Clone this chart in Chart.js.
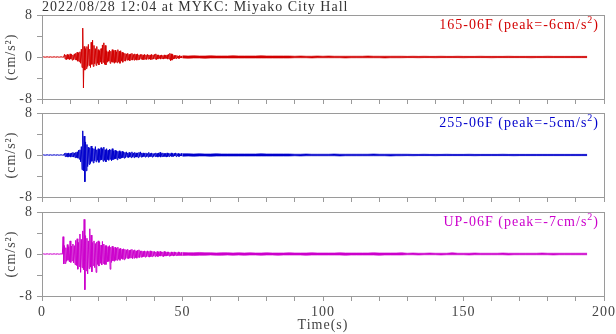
<!DOCTYPE html>
<html>
<head>
<meta charset="utf-8">
<title>MYKC acceleration</title>
<script src="https://cdn.jsdelivr.net/npm/chart.js@4/dist/chart.umd.min.js"></script>
<style>
  body { margin: 0; background: #fff; }
  #wrap { position: relative; width: 616px; height: 334px; overflow: hidden; }
  #wrap canvas { position: absolute; left: 0; }
</style>
</head>
<body>
<div id="wrap">
  <canvas id="p165" width="616" height="104" style="top:0px"></canvas>
  <canvas id="p255" width="616" height="104" style="top:98px"></canvas>
  <canvas id="pUP" width="616" height="137" style="top:197px"></canvas>
</div>
<script>
// Record header and tick labels
const recordTitle = '2022/08/28 12:04 at MYKC: Miyako City Hall';
const xTickLabels = [0, 50, 100, 150, 200];
const yTickLabels = [8, 0, -8];

// Strong-motion part: max / min of each 0.5 s window, starting at t = 0 s
const strongStart = 0;
const strongStep = 0.5;
// Coda: max / min envelope every 2 s, starting at t = 50 s
const tailStart = 50;
const tailStep = 2;

// 165-06F component (cm/s^2)
const ch165Hi = [0.03,0.03,0.03,0.03,0.03,0.03,0.03,0.03,0.03,0.03,0.03,0.03,0.03,0.03,0.03,0.03,
  0.5,0.4,0.5,0.4,0.6,0.5,0.4,0.6,0.7,0.9,0.8,1.0,1.5,5.5,2.0,1.6,2.0,2.4,1.5,2.8,
  3.2,2.2,1.6,2.0,1.4,1.2,1.6,2.3,2.7,2.2,1.2,1.0,1.3,1.1,1.4,1.2,1.3,1.0,1.4,1.1,
  1.2,0.9,0.8,0.7,0.6,0.7,0.5,0.6,0.7,0.5,0.6,0.5,0.6,0.4,0.5,0.5,0.4,0.5,0.4,0.5,
  0.4,0.4,0.5,0.4,0.5,0.6,0.4,0.4,0.3,0.4,0.3,0.4,0.3,0.4,0.5,0.7,0.6,0.5,0.3,0.3,
  0.3,0.2,0.3,0.2];
const ch165Lo = [-0.03,-0.03,-0.03,-0.03,-0.03,-0.03,-0.03,-0.03,-0.03,-0.03,-0.03,-0.03,-0.03,-0.03,-0.03,-0.03,
  -0.4,-0.5,-0.4,-0.5,-0.4,-0.6,-0.5,-0.5,-0.6,-0.8,-0.9,-1.2,-2.0,-5.9,-2.5,-2.2,-1.8,-1.6,-2.0,-1.4,
  -1.8,-1.3,-1.6,-1.2,-1.5,-1.0,-1.3,-1.0,-1.4,-1.5,-1.0,-0.8,-1.2,-0.9,-1.0,-1.2,-1.0,-1.1,-0.9,-1.2,
  -0.8,-1.0,-0.7,-0.8,-0.6,-0.6,-0.7,-0.5,-0.6,-0.6,-0.5,-0.6,-0.5,-0.5,-0.4,-0.5,-0.5,-0.4,-0.5,-0.4,
  -0.4,-0.5,-0.4,-0.4,-0.4,-0.5,-0.4,-0.3,-0.4,-0.3,-0.4,-0.3,-0.3,-0.4,-0.4,-0.7,-0.6,-0.4,-0.3,-0.3,
  -0.2,-0.3,-0.2,-0.2];
const ch165TailHi = [0.25,0.2,0.25,0.2,0.2,0.25,0.2,0.2,0.2,0.25,
  0.2,0.2,0.2,0.2,0.25,0.2,0.2,0.2,0.2,0.2,
  0.15,0.2,0.15,0.15,0.2,0.15,0.2,0.15,0.15,0.15,
  0.15,0.15,0.15,0.2,0.15,0.15,0.15,0.15,0.15,0.15,
  0.12,0.15,0.12,0.15,0.12,0.12,0.15,0.12,0.12,0.15,
  0.12,0.12,0.12,0.15,0.12,0.12,0.12,0.12,0.15,0.12,
  0.12,0.12,0.12,0.12,0.12,0.15,0.12,0.12,0.12,0.12,0.12,0.12,0.12];
const ch165TailLo = [-0.2,-0.25,-0.2,-0.2,-0.25,-0.2,-0.2,-0.2,-0.2,-0.2,
  -0.2,-0.2,-0.2,-0.2,-0.2,-0.2,-0.2,-0.2,-0.2,-0.2,
  -0.15,-0.15,-0.15,-0.2,-0.15,-0.15,-0.15,-0.15,-0.15,-0.2,
  -0.15,-0.15,-0.15,-0.15,-0.15,-0.15,-0.2,-0.15,-0.15,-0.15,
  -0.12,-0.12,-0.15,-0.12,-0.12,-0.15,-0.12,-0.12,-0.12,-0.12,
  -0.15,-0.12,-0.12,-0.12,-0.12,-0.15,-0.12,-0.12,-0.12,-0.12,
  -0.12,-0.12,-0.15,-0.12,-0.12,-0.12,-0.12,-0.12,-0.12,-0.12,-0.12,-0.12,-0.12];

// 255-06F component (cm/s^2)
const ch255Hi = [0.03,0.03,0.03,0.03,0.03,0.03,0.03,0.03,0.03,0.03,0.03,0.03,0.03,0.03,0.03,0.03,
  0.3,0.4,0.3,0.4,0.3,0.4,0.5,0.4,0.5,0.6,0.9,1.0,1.6,4.6,3.6,2.5,2.0,1.5,1.4,1.7,
  1.3,1.2,1.6,1.0,1.2,1.1,1.4,1.2,1.5,1.0,1.2,0.9,1.1,1.0,1.2,0.8,0.9,0.8,0.7,0.8,
  0.6,0.7,0.6,0.5,0.6,0.4,0.5,0.4,0.6,0.4,0.5,0.4,0.4,0.5,0.6,0.4,0.4,0.3,0.4,0.3,
  0.5,0.3,0.4,0.3,0.3,0.4,0.3,0.4,0.5,0.3,0.4,0.3,0.3,0.4,0.3,0.3,0.4,0.3,0.3,0.4,
  0.3,0.3,0.2,0.3];
const ch255Lo = [-0.03,-0.03,-0.03,-0.03,-0.03,-0.03,-0.03,-0.03,-0.03,-0.03,-0.03,-0.03,-0.03,-0.03,-0.03,-0.03,
  -0.3,-0.3,-0.4,-0.3,-0.4,-0.3,-0.4,-0.5,-0.5,-0.6,-0.8,-1.3,-2.8,-3.0,-5.1,-3.0,-2.2,-1.8,-1.6,-1.2,
  -1.5,-1.1,-1.3,-1.0,-1.4,-1.0,-0.9,-1.2,-1.0,-1.3,-0.9,-1.0,-0.8,-1.1,-0.9,-0.8,-0.7,-0.9,-0.6,-0.7,
  -0.6,-0.5,-0.6,-0.5,-0.4,-0.5,-0.4,-0.5,-0.4,-0.5,-0.4,-0.4,-0.5,-0.3,-0.4,-0.4,-0.3,-0.4,-0.3,-0.4,
  -0.3,-0.3,-0.4,-0.3,-0.3,-0.3,-0.4,-0.3,-0.4,-0.3,-0.3,-0.3,-0.4,-0.3,-0.3,-0.2,-0.3,-0.3,-0.2,-0.3,
  -0.2,-0.3,-0.2,-0.2];
const ch255TailHi = [0.25,0.25,0.2,0.25,0.2,0.2,0.25,0.2,0.2,0.2,
  0.2,0.2,0.2,0.2,0.25,0.2,0.2,0.2,0.2,0.2,
  0.15,0.15,0.2,0.15,0.15,0.15,0.15,0.2,0.15,0.15,
  0.15,0.15,0.15,0.15,0.2,0.15,0.15,0.15,0.15,0.15,
  0.15,0.12,0.12,0.15,0.12,0.12,0.12,0.15,0.12,0.12,
  0.12,0.15,0.12,0.12,0.12,0.12,0.12,0.15,0.12,0.12,
  0.12,0.12,0.12,0.12,0.12,0.12,0.12,0.12,0.12,0.12,0.12,0.12,0.12];
const ch255TailLo = [-0.25,-0.2,-0.25,-0.2,-0.2,-0.25,-0.2,-0.2,-0.2,-0.2,
  -0.2,-0.2,-0.2,-0.2,-0.2,-0.2,-0.2,-0.2,-0.2,-0.2,
  -0.15,-0.2,-0.15,-0.15,-0.15,-0.15,-0.15,-0.15,-0.2,-0.15,
  -0.15,-0.15,-0.15,-0.15,-0.15,-0.15,-0.15,-0.2,-0.15,-0.15,
  -0.12,-0.15,-0.12,-0.12,-0.12,-0.15,-0.12,-0.12,-0.12,-0.12,
  -0.12,-0.12,-0.15,-0.12,-0.12,-0.12,-0.12,-0.12,-0.12,-0.15,
  -0.12,-0.12,-0.12,-0.12,-0.12,-0.12,-0.12,-0.12,-0.12,-0.12,-0.12,-0.12,-0.12];

// UP-06F component (cm/s^2)
const chUpHi = [0.03,0.03,0.03,0.03,0.03,0.03,0.03,0.03,0.03,0.03,0.03,0.03,0.03,0.03,0.03,
  3.3,1.6,1.2,1.8,1.4,2.5,1.5,1.9,1.6,2.6,2.9,2.2,3.8,2.8,4.4,6.6,3.5,3.0,2.5,4.8,
  3.6,2.2,2.5,2.0,2.3,2.5,2.3,1.7,2.4,1.9,1.6,1.6,1.4,1.6,1.3,1.5,1.2,1.3,1.1,1.3,
  1.0,1.1,0.9,1.0,0.9,0.8,0.9,0.7,0.8,0.9,0.7,0.8,0.6,0.7,0.8,0.6,0.6,0.5,0.6,0.5,
  0.6,0.5,0.6,0.5,0.5,0.5,0.4,0.5,0.4,0.5,0.4,0.4,0.5,0.4,0.4,0.4,0.3,0.4,0.3,0.4,
  0.3,0.3,0.4,0.3,0.3];
const chUpLo = [-0.03,-0.03,-0.03,-0.03,-0.03,-0.03,-0.03,-0.03,-0.03,-0.03,-0.03,-0.03,-0.03,-0.03,-0.03,
  -1.9,-1.8,-1.4,-1.2,-1.5,-1.6,-1.3,-1.7,-2.0,-2.2,-2.9,-2.4,-3.5,-2.6,-3.0,-6.8,-3.2,-3.8,-2.8,-2.5,
  -3.4,-2.2,-2.6,-3.5,-2.0,-2.3,-1.8,-2.1,-1.8,-2.0,-2.0,-1.5,-1.4,-2.9,-1.6,-1.3,-1.4,-1.2,-1.2,-1.0,
  -1.2,-0.9,-1.0,-1.1,-0.9,-0.8,-0.9,-0.8,-0.7,-0.9,-0.8,-0.7,-0.8,-0.6,-0.7,-0.6,-0.6,-0.5,-0.6,-0.5,
  -0.5,-0.6,-0.5,-0.5,-0.4,-0.5,-0.4,-0.5,-0.4,-0.4,-0.4,-0.5,-0.4,-0.4,-0.3,-0.4,-0.4,-0.3,-0.4,-0.3,
  -0.3,-0.3,-0.3,-0.3,-0.3];
const chUpTailHi = [0.3,0.25,0.25,0.3,0.25,0.25,0.2,0.25,0.25,0.2,
  0.25,0.2,0.25,0.2,0.2,0.25,0.2,0.2,0.2,0.25,
  0.2,0.2,0.2,0.25,0.2,0.2,0.2,0.2,0.25,0.2,
  0.2,0.2,0.2,0.2,0.25,0.2,0.2,0.2,0.2,0.25,
  0.15,0.2,0.15,0.15,0.2,0.15,0.15,0.15,0.25,0.15,
  0.15,0.15,0.2,0.15,0.15,0.15,0.15,0.2,0.15,0.15,
  0.15,0.15,0.15,0.15,0.2,0.15,0.15,0.15,0.15,0.15,0.15,0.15,0.15];
const chUpTailLo = [-0.3,-0.25,-0.3,-0.25,-0.25,-0.2,-0.25,-0.25,-0.2,-0.25,
  -0.2,-0.25,-0.2,-0.2,-0.25,-0.2,-0.2,-0.25,-0.2,-0.2,
  -0.2,-0.2,-0.25,-0.2,-0.2,-0.2,-0.2,-0.2,-0.2,-0.25,
  -0.2,-0.2,-0.2,-0.2,-0.2,-0.25,-0.2,-0.2,-0.2,-0.2,
  -0.15,-0.15,-0.2,-0.15,-0.15,-0.15,-0.2,-0.15,-0.15,-0.15,
  -0.15,-0.2,-0.15,-0.15,-0.15,-0.15,-0.15,-0.15,-0.2,-0.15,
  -0.15,-0.15,-0.15,-0.15,-0.15,-0.15,-0.2,-0.15,-0.15,-0.15,-0.15,-0.15,-0.15];

const textFont = '"Liberation Serif", "Times New Roman", serif';
const frameColor = '#9a9a9a';
const labelColor = '#444';

// Interleave window max/min so the trace fills each window like a dense waveform
function strongPoints(hi, lo) {
  const pts = [];
  hi.forEach((v, i) => {
    const t = strongStart + i * strongStep;
    pts.push({x: t, y: v}, {x: t + strongStep / 2, y: lo[i]});
  });
  return pts;
}

function tailPoints(vals) {
  return vals.map((v, i) => ({x: tailStart + i * tailStep, y: v}));
}

// Largest absolute excursion, keeping its sign
function peakOf(hi, lo) {
  let p = 0;
  hi.concat(lo).forEach(v => { if (Math.abs(v) > Math.abs(p)) p = v; });
  return Math.round(p);
}

// Frame, component label and (first panel only) the record title
const panelDecor = {
  id: 'panelDecor',
  beforeDraw(chart) {
    chart.ctx.letterSpacing = '1px';
  },
  afterDatasetsDraw(chart, args, opts) {
    const ctx = chart.ctx;
    const a = chart.chartArea;
    ctx.save();
    ctx.letterSpacing = '1px';
    ctx.strokeStyle = frameColor;
    ctx.lineWidth = 1;
    ctx.strokeRect(a.left + 0.5, a.top + 0.5, a.right - a.left, a.bottom - a.top);

    const x = a.right - 5;
    const y = a.top + 14;
    ctx.fillStyle = opts.color;
    ctx.textAlign = 'right';
    ctx.textBaseline = 'alphabetic';
    ctx.font = '14px ' + textFont;
    ctx.fillText(')', x, y);
    let w = ctx.measureText(')').width;
    ctx.font = '10px ' + textFont;
    ctx.fillText('2', x - w, y - 6);
    w += ctx.measureText('2').width;
    ctx.font = '14px ' + textFont;
    ctx.fillText(opts.name + ' (peak=' + opts.peak + 'cm/s', x - w, y);

    if (opts.title) {
      ctx.fillStyle = '#333';
      ctx.textAlign = 'left';
      ctx.fillText(opts.title, a.left, 11);
    }
    ctx.restore();
  }
};

function makePanel(id, hi, lo, tailHi, tailLo, color, name, bottom) {
  const ctx = document.getElementById(id).getContext('2d');
  const line = { borderColor: color, borderWidth: 1, borderJoinStyle: 'round', pointRadius: 0, tension: 0 };
  const coda = { borderColor: color, borderWidth: 0.6, pointRadius: 0, tension: 0 };
  return new Chart(ctx, {
    type: 'line',
    data: {
      datasets: [
        Object.assign({ data: tailPoints(tailHi), fill: false }, coda),
        Object.assign({ data: tailPoints(tailLo), fill: '-1', backgroundColor: color }, coda),
        Object.assign({ data: strongPoints(hi, lo), fill: false }, line)
      ]
    },
    options: {
      responsive: false,
      animation: false,
      parsing: false,
      normalized: true,
      events: [],
      layout: { autoPadding: false, padding: { top: 15, right: 12, left: 0, bottom: 0 } },
      plugins: {
        legend: { display: false },
        tooltip: { enabled: false },
        panelDecor: {
          color: color,
          name: name,
          peak: peakOf(hi, lo),
          title: id === 'p165' ? recordTitle : null
        }
      },
      scales: {
        x: {
          type: 'linear',
          min: 0,
          max: 200,
          border: { display: false },
          grid: { drawOnChartArea: false, drawTicks: true, tickLength: 5, color: frameColor },
          ticks: {
            stepSize: 10,
            autoSkip: false,
            maxRotation: 0,
            padding: 3,
            color: labelColor,
            font: { family: textFont, size: 14 },
            callback: v => (bottom && xTickLabels.includes(v)) ? String(v) : ''
          },
          title: {
            display: bottom,
            text: 'Time(s)',
            color: labelColor,
            font: { family: textFont, size: 14 },
            padding: { top: 0, bottom: 0 }
          },
          afterFit: s => {
            s.height = bottom ? 38 : 5;
            s.paddingLeft = 0;
            s.paddingRight = 0;
          }
        },
        y: {
          min: -8,
          max: 8,
          border: { display: false },
          grid: { drawOnChartArea: false, drawTicks: true, tickLength: 5, color: frameColor },
          ticks: {
            stepSize: 2,
            padding: 4,
            color: labelColor,
            font: { family: textFont, size: 14 },
            callback: v => yTickLabels.includes(v) ? String(v) : ''
          },
          title: {
            display: true,
            text: '(cm/s²)',
            color: labelColor,
            font: { family: textFont, size: 14 },
            padding: { top: 3, bottom: 0 }
          },
          afterFit: s => {
            s.width = 42;
            s.paddingTop = 0;
            s.paddingBottom = 0;
          }
        }
      }
    },
    plugins: [panelDecor]
  });
}

makePanel('p165', ch165Hi, ch165Lo, ch165TailHi, ch165TailLo, '#d20000', '165-06F', false);
makePanel('p255', ch255Hi, ch255Lo, ch255TailHi, ch255TailLo, '#0000cc', '255-06F', false);
makePanel('pUP', chUpHi, chUpLo, chUpTailHi, chUpTailLo, '#cc00cc', 'UP-06F', true);
</script>
</body>
</html>
